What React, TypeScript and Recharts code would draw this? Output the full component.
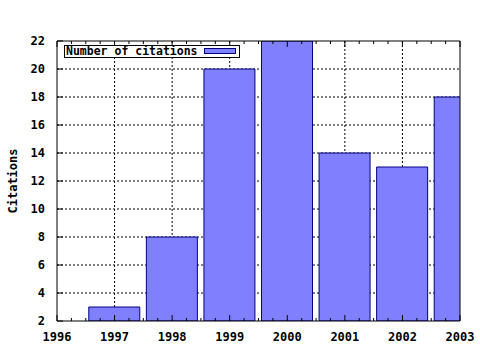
import { BarChart, Bar, XAxis, YAxis, CartesianGrid } from 'recharts';

const years = [1997, 1998, 1999, 2000, 2001, 2002, 2003];
const citations = [3, 8, 20, 22, 14, 13, 18];
const xTicks = [1996, 1997, 1998, 1999, 2000, 2001, 2002, 2003];
const yTicks = [2, 4, 6, 8, 10, 12, 14, 16, 18, 20, 22];
const seriesName = 'Number of citations';
const yLabel = 'Citations';

const data = years.map((year, i) => ({ year, citations: citations[i] }));

// quarter-year minor ticks between the major ones
const minorTicks = xTicks
  .slice(0, -1)
  .flatMap((y) => [y, y + 0.25, y + 0.5, y + 0.75])
  .concat(xTicks[xTicks.length - 1]);

const FONT = '"DejaVu Sans Mono", monospace';
const BAR_FILL = '#8080ff';
const BAR_STROKE = '#000080';

const BottomTick = (props: any) => {
  const { x, y, payload } = props;
  const major = Number.isInteger(payload.value);
  return (
    <g>
      <line x1={x} x2={x} y1={y} y2={y - (major ? 6 : 3)} stroke="#000" />
      {major && (
        <text x={x} y={y + 20} textAnchor="middle" fontFamily={FONT} fontWeight="bold" fontSize={12} fill="#000">
          {payload.value}
        </text>
      )}
    </g>
  );
};

const TopTick = (props: any) => {
  const { x, y, payload } = props;
  const major = Number.isInteger(payload.value);
  return <line x1={x} x2={x} y1={y} y2={y + (major ? 6 : 3)} stroke="#000" />;
};

const LeftTick = (props: any) => {
  const { x, y, payload } = props;
  return (
    <g>
      <line x1={x} x2={x + 6} y1={y} y2={y} stroke="#000" />
      <text x={x - 12} y={y + 4} textAnchor="end" fontFamily={FONT} fontWeight="bold" fontSize={12} fill="#000">
        {payload.value}
      </text>
    </g>
  );
};

const RightTick = (props: any) => {
  const { x, y } = props;
  return <line x1={x} x2={x - 6} y1={y} y2={y} stroke="#000" />;
};

const AxisTitle = (props: any) => {
  const vb = props.viewBox;
  const cx = 17;
  const cy = vb.y + vb.height / 2;
  return (
    <text
      x={cx}
      y={cy}
      textAnchor="middle"
      transform={`rotate(-90, ${cx}, ${cy})`}
      fontFamily={FONT}
      fontWeight="bold"
      fontSize={12}
      fill="#000"
    >
      {yLabel}
    </text>
  );
};

export default function App() {
  return (
    <div style={{ position: 'absolute', left: 0, top: 0, width: 480, height: 350, background: '#fff' }}>
      <BarChart width={480} height={350} data={data} margin={{ top: 40, right: 0, bottom: 0, left: 0 }}>
        <CartesianGrid
          xAxisId="main"
          yAxisId="left"
          stroke="#000"
          strokeDasharray="2 2"
          verticalValues={xTicks.slice(1, -1)}
          horizontalValues={yTicks.slice(1, -1)}
        />
        <XAxis
          xAxisId="main"
          dataKey="year"
          type="number"
          domain={[1996, 2003]}
          ticks={minorTicks}
          interval={0}
          allowDataOverflow
          height={29}
          tickSize={0}
          tickMargin={0}
          tickLine={false}
          axisLine={{ stroke: '#000' }}
          tick={<BottomTick />}
        />
        <XAxis
          xAxisId="top"
          orientation="top"
          dataKey="year"
          type="number"
          domain={[1996, 2003]}
          ticks={minorTicks}
          interval={0}
          allowDataOverflow
          height={1}
          tickSize={0}
          tickMargin={0}
          tickLine={false}
          axisLine={{ stroke: '#000' }}
          tick={<TopTick />}
        />
        <YAxis
          yAxisId="left"
          type="number"
          domain={[2, 22]}
          ticks={yTicks}
          interval={0}
          allowDataOverflow
          width={57}
          tickSize={0}
          tickMargin={0}
          tickLine={false}
          axisLine={{ stroke: '#000' }}
          tick={<LeftTick />}
          label={<AxisTitle />}
        />
        <YAxis
          yAxisId="right"
          orientation="right"
          type="number"
          domain={[2, 22]}
          ticks={yTicks}
          interval={0}
          width={20}
          tickSize={0}
          tickMargin={0}
          tickLine={false}
          axisLine={{ stroke: '#000' }}
          tick={<RightTick />}
        />
        <Bar
          xAxisId="main"
          yAxisId="left"
          dataKey="citations"
          name={seriesName}
          barSize={51}
          fill={BAR_FILL}
          stroke={BAR_STROKE}
          strokeWidth={1}
          isAnimationActive={false}
        />
      </BarChart>
      <div
        style={{
          position: 'absolute',
          left: 64,
          top: 45,
          width: 174,
          height: 11,
          border: '1px solid #000',
          background: '#fff',
          boxSizing: 'content-box',
        }}
      >
        <span
          style={{
            position: 'absolute',
            left: 1,
            top: -2,
            fontFamily: FONT,
            fontWeight: 'bold',
            fontSize: 11.5,
            lineHeight: '14px',
            whiteSpace: 'nowrap',
          }}
        >
          {seriesName}
        </span>
        <div
          style={{
            position: 'absolute',
            left: 139,
            top: 2,
            width: 30,
            height: 4,
            background: BAR_FILL,
            border: `1px solid ${BAR_STROKE}`,
          }}
        />
      </div>
    </div>
  );
}
